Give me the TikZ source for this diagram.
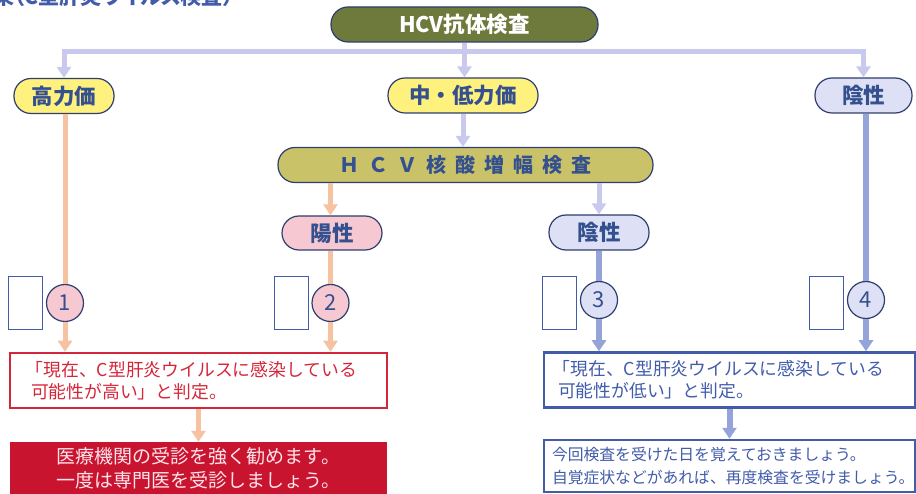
\documentclass[tikz,border=0pt]{standalone}
\usepackage{fontspec}
\setmainfont{Noto Sans CJK JP}
\newfontfamily\jpprop{Noto Sans CJK JP}[RawFeature=+palt]
\usetikzlibrary{arrows.meta,positioning}
\definecolor{hcvgreen}{RGB}{110,121,60}
\definecolor{natkhaki}{RGB}{201,194,104}
\definecolor{pillyellow}{RGB}{255,241,125}
\definecolor{pillpink}{RGB}{246,200,210}
\definecolor{pilllav}{RGB}{222,224,246}
\definecolor{pillline}{RGB}{46,62,110}
\definecolor{labelblue}{RGB}{52,80,143}
\definecolor{lavline}{RGB}{201,201,238}
\definecolor{peachline}{RGB}{246,194,162}
\definecolor{blueline}{RGB}{148,164,216}
\definecolor{judgered}{RGB}{212,38,58}
\definecolor{alertred}{RGB}{200,20,46}
\definecolor{judgeblue}{RGB}{66,92,170}
\tikzset{>=stealth}
\tikzset{
  pill/.style={draw=pillline, line width=1.2pt, rounded corners=17pt,
    minimum height=35pt, inner sep=0pt, text=labelblue,
    font=\bfseries\fontsize{21.5}{23}\selectfont},
  numcircle/.style={circle, draw=pillline, line width=1.2pt, minimum size=37pt,
    inner sep=0pt, text=labelblue, font=\fontsize{22}{22}\selectfont},
  blankbox/.style={draw=judgeblue, line width=1pt, minimum width=34pt,
    minimum height=53pt, inner sep=0pt},
  judgebox/.style={line width=2.5pt, minimum width=377pt, minimum height=55pt,
    align=left, text width=335pt, inner xsep=21pt,
    font=\fontsize{17.8}{22}\selectfont},
  tip/.style={-{Triangle[width=14pt,length=11pt]}},
  lavarrow/.style={draw=lavline, line width=5pt},
  peacharrow/.style={draw=peachline, line width=5pt},
  bluearrow/.style={draw=blueline, line width=6pt}
}
\begin{document}
\begin{tikzpicture}[x=1pt,y=-1pt]
  \useasboundingbox (0,0) rectangle (916,494);
  % title, cut by the page edge
  \node[anchor=east, text=judgeblue, font=\jpprop\bfseries\fontsize{21}{22}\selectfont]
    (title) at (237,-3) {果（C型肝炎ウイルス検査）};
  % first test and its three outcomes
  \node[pill, fill=hcvgreen, text=white, minimum width=267pt] (hcv) at (464.5,24.5) {HCV抗体検査};
  \coordinate (split) at (464.5,52);
  \node[pill, fill=pillyellow, minimum width=100pt] (high) at (64,96) {高力価};
  \node[pill, fill=pillyellow, minimum width=150pt] (mid) at (463,95.5) {中・低力価};
  \node[pill, fill=pilllav, minimum width=97pt] (nega) at (863.5,95.5) {陰性};
  % second test
  \node[pill, fill=natkhaki, minimum width=375pt, font=\bfseries\fontsize{20}{22}\selectfont] (nat) at (465.5,165)
    {Ｈ\hspace{9pt}Ｃ\hspace{9pt}Ｖ\hspace{9pt}核\hspace{9pt}酸\hspace{9pt}増\hspace{9pt}幅\hspace{9pt}検\hspace{9pt}査};
  \node[pill, fill=pillpink, minimum width=100pt, minimum height=34pt] (pos) at (332,233) {陽性};
  \node[pill, fill=pilllav, minimum width=100pt] (negb) at (599,232.5) {陰性};
  % numbered results with empty check boxes
  \node[numcircle, fill=pillpink] (c1) at (65,303) {1};
  \node[numcircle, fill=pillpink] (c2) at (330.5,303) {2};
  \node[numcircle, fill=pilllav] (c3) at (599,300) {3};
  \node[numcircle, fill=pilllav] (c4) at (866,300) {4};
  \node[blankbox] (b1) at (25,303.5) {};
  \node[blankbox] (b2) at (291.5,303.5) {};
  \node[blankbox] (b3) at (559,303) {};
  \node[blankbox] (b4) at (826,303) {};
  % judgements
  \node[judgebox, draw=judgered, text=judgered] (redbox) at (198.5,380.5)
    {\hspace*{-0.3em}「現在、C型肝炎ウイルスに感染している\\可能性が高い」と判定。};
  \node[judgebox, draw=judgeblue, text=judgeblue, minimum width=371pt, text width=343pt, inner xsep=14pt] (bluebox) at (729.5,380)
    {\hspace*{-0.3em}「現在、C型肝炎ウイルスに感染している\\可能性が低い」と判定。};
  \node[fill=alertred, minimum width=377pt, minimum height=52pt, align=center,
    text={rgb,255:red,255;green,228;blue,236}, font=\fontsize{19}{24}\selectfont]
    (redfill) at (198.5,468) {医療機関の受診を強く勧めます。\\一度は専門医を受診しましょう。};
  \node[draw=judgeblue, line width=2.5pt, fill=white, minimum width=371pt, minimum height=52pt,
    align=left, text width=355pt, inner xsep=8pt, text=judgeblue,
    font=\fontsize{15.8}{23}\selectfont]
    (bluefill) at (729.5,466) {今回検査を受けた日を覚えておきましょう。\\自覚症状などがあれば、再度検査を受けましょう。};
  % connectors
  \draw[lavarrow] (hcv.south -| split) -- (split);
  \draw[lavarrow, tip] (split) -| (high.north);
  \draw[lavarrow, tip] (split) -| (nega.north);
  \draw[lavarrow, tip] (split) -- (split |- mid.north);
  \draw[lavarrow, tip] (mid.south) -- (mid.south |- nat.north);
  \draw[peacharrow, tip] (nat.south -| c2) -- (c2 |- pos.north);
  \draw[lavarrow, tip] (nat.south -| negb) -- (negb.north);
  \draw[peacharrow] (high.south -| c1) -- (c1);
  \draw[peacharrow] (pos.south -| c2) -- (c2);
  \draw[bluearrow] (negb) -- (c3);
  \draw[bluearrow] (nega.south -| c4) -- (c4);
  \draw[peacharrow, tip] (c1) -- (c1 |- redbox.north);
  \draw[peacharrow, tip] (c2) -- (c2 |- redbox.north);
  \draw[bluearrow, tip] (c3) -- (c3 |- bluebox.north);
  \draw[bluearrow, tip] (c4) -- (c4 |- bluebox.north);
  \draw[peacharrow, tip] (redbox) -- (redfill);
  \draw[bluearrow, tip] (bluebox) -- (bluefill);
\end{tikzpicture}
\end{document}
